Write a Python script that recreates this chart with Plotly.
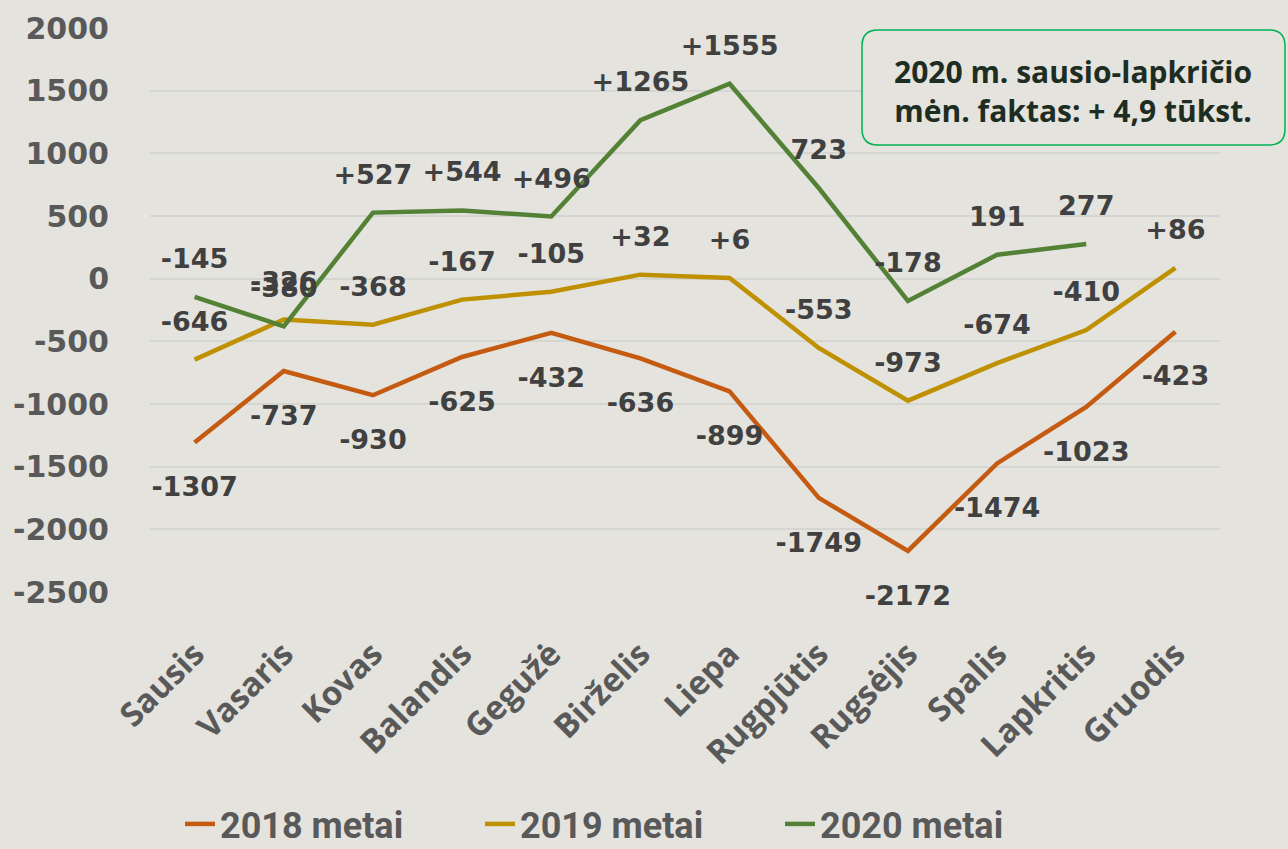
import plotly.graph_objects as go

months = ["Sausis", "Vasaris", "Kovas", "Balandis", "Gegužė", "Birželis",
          "Liepa", "Rugpjūtis", "Rugsėjis", "Spalis", "Lapkritis", "Gruodis"]
v2018 = [-1307, -737, -930, -625, -432, -636, -899, -1749, -2172, -1474, -1023, -423]
v2019 = [-646, -326, -368, -167, -105, 32, 6, -553, -973, -674, -410, 86]
v2020 = [-145, -380, 527, 544, 496, 1265, 1555, 723, -178, 191, 277]
t2018 = ["-1307", "-737", "-930", "-625", "-432", "-636", "-899", "-1749", "-2172", "-1474", "-1023", "-423"]
t2019 = ["-646", "-326", "-368", "-167", "-105", "+32", "+6", "-553", "-973", "-674", "-410", "+86"]
t2020 = ["-145", "-380", "+527", "+544", "+496", "+1265", "+1555", "723", "-178", "191", "277"]
yticks = [2000, 1500, 1000, 500, 0, -500, -1000, -1500, -2000, -2500]

c2018 = "#C55A11"
c2019 = "#BF9000"
c2020 = "#538135"
lblfont = dict(family="DejaVu Sans", size=27, color="#404040")

fig = go.Figure()
for name, vals, txt, col, pos, msz in [
    ("2018 metai", v2018, t2018, c2018, "bottom center", 52),
    ("2019 metai", v2019, t2019, c2019, "top center", 34),
    ("2020 metai", v2020, t2020, c2020, "top center", 34),
]:
    fig.add_trace(go.Scatter(
        x=months[:len(vals)], y=vals, name="<b>%s</b>" % name, mode="lines+markers+text",
        line=dict(color=col, width=4.5),
        marker=dict(size=msz, color="rgba(0,0,0,0)"),
        text=["<b>%s</b>" % t for t in txt], textposition=pos,
        textfont=lblfont, cliponaxis=False,
    ))

W, H = 1288, 849
L, R, T, B = 150, 68, 28, 257
pw, ph = W - L - R, H - T - B

def px(x):
    return (x - L) / pw

def py(y):
    return (H - B - y) / ph

x0, x1, y0, y1 = px(862), px(1285), py(145), py(30)
rx, ry = 16 / pw, 16 / ph
path = (f"M {x0+rx},{y1} L {x1-rx},{y1} Q {x1},{y1} {x1},{y1-ry} "
        f"L {x1},{y0+ry} Q {x1},{y0} {x1-rx},{y0} L {x0+rx},{y0} "
        f"Q {x0},{y0} {x0},{y0+ry} L {x0},{y1-ry} Q {x0},{y1} {x0+rx},{y1} Z")

fig.update_layout(
    width=W, height=H,
    margin=dict(l=L, r=R, t=T, b=B, autoexpand=False),
    paper_bgcolor="#E4E3DE", plot_bgcolor="#E4E3DE",
    showlegend=True,
    legend=dict(orientation="h", x=px(630), xanchor="center", y=py(824), yanchor="middle",
                font=dict(family="Liberation Sans Narrow, Roboto", size=36, color="#595959"),
                itemwidth=30, entrywidth=255, entrywidthmode="pixels",
                tracegroupgap=0, bgcolor="rgba(0,0,0,0)"),
    xaxis=dict(range=[-0.5, 11.5], showgrid=False, zeroline=False, showline=False,
               automargin=False,
               tickangle=-45, ticks="", ticklabelstandoff=35,
               tickfont=dict(family="Open Sans", size=33, color="#595959"),
               tickvals=months, ticktext=["<b>%s</b>" % m for m in months]),
    yaxis=dict(range=[-2500, 2000], showgrid=True, gridcolor="#D5D5D2", gridwidth=1.5,
               automargin=False,
               zeroline=False, showline=False, ticks="", ticklabelstandoff=40,
               tickvals=yticks, ticktext=["<b>%d</b>" % v for v in yticks],
               tickfont=dict(family="DejaVu Sans", size=30, color="#595959")),
    shapes=[dict(type="path", xref="paper", yref="paper", path=path,
                 line=dict(color="#00B050", width=1.5), fillcolor="#E4E3DE", layer="above")],
    annotations=[dict(xref="paper", yref="paper", x=px(1073), y=py(91),
                      xanchor="center", yanchor="middle",
                      text="<b>2020 m. sausio-lapkričio<br>mėn. faktas: + 4,9 tūkst.</b>",
                      showarrow=False, align="center",
                      font=dict(family="Open Sans", size=30, color="#1E2D22"))],
)
fig.write_html("out.html", config={"displayModeBar": False},
               post_script="document.body.style.margin='0';")
